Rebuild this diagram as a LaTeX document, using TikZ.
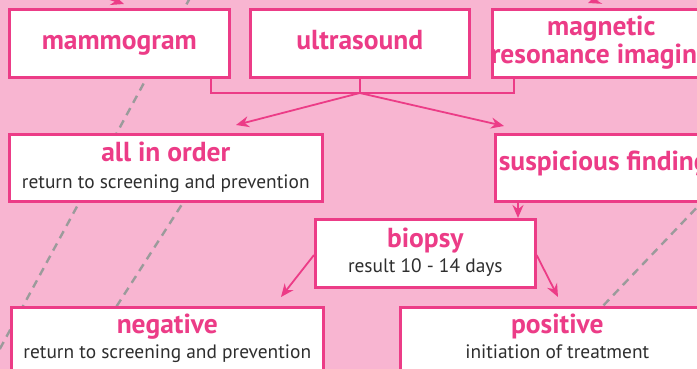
\documentclass[tikz,border=0pt]{standalone}
\usepackage{fontspec}
\setmainfont{PT Sans}
\usetikzlibrary{arrows.meta,calc}
\definecolor{bg}{HTML}{F8B5D1}
\definecolor{pk}{HTML}{EC3C87}
\definecolor{gr}{HTML}{9B9B9B}
\definecolor{tx}{HTML}{2E2E2E}
\begin{document}
\begin{tikzpicture}[x=1pt,y=-1pt,
  box/.style={draw=pk, line width=2.6pt, fill=white, anchor=north west, inner sep=0pt, minimum height=67pt},
  ttl/.style={text=pk, anchor=base, inner sep=0pt, font=\bfseries\fontsize{27.5}{30}\selectfont},
  sub/.style={text=tx, anchor=base, inner sep=0pt, font=\fontsize{19.4}{21}\selectfont},
  conn/.style={draw=pk, line width=1.8pt},
  arr/.style={conn, -{Stealth[length=13pt,width=11pt]}},
  dsh/.style={draw=gr, line width=2.4pt, dash pattern=on 8pt off 6pt}]
\fill[bg] (0,0) rectangle (697,369);
\clip (0,0) rectangle (697,369);
\useasboundingbox (0,0) rectangle (697,369);

% decorative dashed lines (behind boxes)
\coordinate (d1a) at (197,-15);
\coordinate (d1b) at (-17,380);
\coordinate (d2a) at (204,170);
\coordinate (d2b) at (95,340);
\coordinate (d3a) at (725,178);
\coordinate (d3b) at (580,330);
\draw[dsh] (d1a) -- (d1b);
\draw[dsh] (d2a) -- (d2b);
\draw[dsh] (d3a) -- (d3b);

% arrows coming from above (cut off)
\coordinate (ta1) at (40,-25);
\coordinate (tb1) at (124,4);
\coordinate (ta2) at (680,-30);
\coordinate (tb2) at (588,3);
\draw[arr] (ta1) -- (tb1);
\draw[arr] (ta2) -- (tb2);

% boxes
\node[box, minimum width=220pt, minimum height=68pt] (mam) at (8,8) {};
\node[ttl] (mamt) at ($(mam.north)+(0,42)$) {mammogram};
\node[box, minimum width=219pt, minimum height=68pt] (us) at (249,8) {};
\node[ttl] (ust) at ($(us.north)+(0,42)$) {ultrasound};
\node[box, minimum width=220pt, minimum height=68pt] (mri) at (491,8) {};
\node[ttl] (mrit1) at ($(mri.north)+(-1,28)$) {magnetic};
\node[ttl] (mrit2) at ($(mri.north)+(-1,56)$) {resonance imaging};

\node[box, minimum width=313pt] (ok) at (8,133) {};
\node[ttl] (okt) at ($(ok.north)+(0,28)$) {all in order};
\node[sub] (oks) at ($(ok.north)+(0,55)$) {return to screening and prevention};

\node[box, minimum width=217pt] (sus) at (494,133) {};
\node[ttl] (sust) at ($(sus.north)+(0,38)$) {suspicious finding};

\node[box, minimum width=220pt, minimum height=68pt] (bio) at (314,218) {};
\node[ttl] (biot) at ($(bio.north)+(0,29)$) {biopsy};
\node[sub] (bios) at ($(bio.north)+(0,54)$) {result 10 - 14 days};

\node[box, minimum width=312pt] (neg) at (10,306) {};
\node[ttl] (negt) at ($(neg.north)+(0,27)$) {negative};
\node[sub] (negs) at ($(neg.north)+(0,52)$) {return to screening and prevention};

\node[box, minimum width=314pt] (pos) at (399,306) {};
\node[ttl] (post) at ($(pos.north)+(0,27)$) {positive};
\node[sub] (poss) at ($(pos.north)+(0,52)$) {initiation of treatment};

% bracket and connectors
\coordinate (j) at (us.south |- 0,93);
\coordinate (tok) at (236,125);
\coordinate (tsus) at (504,126);
\draw[conn] ($(mam.south east)+(-20,0)$) |- (j);
\draw[conn] ($(mri.south west)+(23,0)$) |- (j);
\draw[conn] (us.south) -- (j);
\draw[arr] (j) -- (tok);
\draw[arr] (j) -- (tsus);

\draw[arr] (sus.south -| 518,0) -- (bio.north -| 518,0);
\coordinate (bl) at (bio.west |- 0,255);
\coordinate (br) at (bio.east |- 0,255);
\coordinate (tneg) at (281,297);
\coordinate (tpos) at (558,297);
\draw[arr] (bl) -- (tneg);
\draw[arr] (br) -- (tpos);
\end{tikzpicture}
\end{document}
